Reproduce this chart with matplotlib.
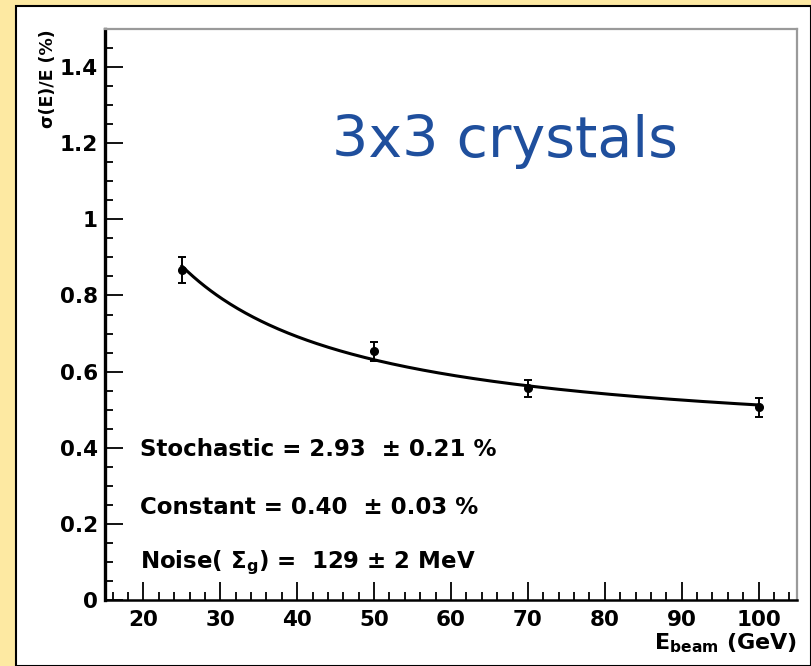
import numpy as np
import matplotlib.pyplot as plt
from matplotlib.patches import Rectangle
from matplotlib.ticker import MultipleLocator

plt.rcParams['font.family'] = ['DejaVu Sans']
plt.rcParams['mathtext.fontset'] = 'custom'
plt.rcParams['mathtext.rm'] = 'DejaVu Sans:bold'
plt.rcParams['mathtext.bf'] = 'DejaVu Sans:bold'
plt.rcParams['mathtext.it'] = 'DejaVu Sans:bold'

# Energy resolution measured with the 3x3 crystal matrix
e_beam = [25, 50, 70, 100]            # GeV
resol = [0.868, 0.653, 0.556, 0.506]  # sigma(E)/E in %
resol_err = [0.034, 0.024, 0.022, 0.024]

# Fit parameters
stoch = 2.93     # % * sqrt(GeV)
const = 0.40     # %
noise = 0.129    # GeV

fit_labels = [
    'Stochastic = 2.93  \u00b1 0.21 %',
    'Constant = 0.40  \u00b1 0.03 %',
    'Noise( $\\Sigma_{\\rm g}$) =  129 \u00b1 2 MeV',
]


def resolucion(e):
    return np.sqrt((stoch / np.sqrt(e))**2 + (100 * noise / e)**2 + const**2)


W, H = 811, 666
fig = plt.figure(figsize=(W / 100, H / 100), dpi=100)
fig.patch.set_facecolor('#fde9a2')

# white canvas with black border
fig.patches.append(Rectangle((16 / W, 0), 1 - 16 / W, 1 - 6 / H,
                             transform=fig.transFigure, facecolor='white',
                             edgecolor='black', linewidth=1.5, zorder=-10))

ax = fig.add_axes([105 / W, 66 / H, (797 - 105) / W, (600 - 29) / H])
ax.set_facecolor('white')

e = np.linspace(25, 100, 300)
ax.plot(e, resolucion(e), color='black', lw=2.2, zorder=2)
ax.errorbar(e_beam, resol, yerr=resol_err, fmt='o', color='black', ms=5.5,
            capsize=3, elinewidth=1.4, capthick=1.4, zorder=3)

ax.set_xlim(15, 105)
ax.set_ylim(0, 1.5)
ax.xaxis.set_minor_locator(MultipleLocator(2))
ax.yaxis.set_minor_locator(MultipleLocator(0.05))
ax.set_yticks([0, 0.2, 0.4, 0.6, 0.8, 1.0, 1.2, 1.4])
ax.set_yticklabels(['0', '0.2', '0.4', '0.6', '0.8', '1', '1.2', '1.4'])
ax.set_xticks([20, 30, 40, 50, 60, 70, 80, 90, 100])

ax.tick_params(which='both', direction='in', top=False, right=False,
               width=1.3, labelsize=15.5)
ax.tick_params(which='major', length=13)
ax.tick_params(which='minor', length=6)
ax.tick_params(axis='x', pad=7)
ax.tick_params(axis='y', pad=5)
for lab in ax.get_xticklabels() + ax.get_yticklabels():
    lab.set_fontweight('bold')

ax.spines['left'].set_linewidth(2.4)
ax.spines['bottom'].set_linewidth(1.8)
for s in ('top', 'right'):
    ax.spines[s].set_color('#9a9a9a')
    ax.spines[s].set_linewidth(1.6)

ax.set_ylabel('\u03c3(E)/E (%)', fontsize=12.5, fontweight='bold')
ax.yaxis.set_label_coords(-0.07, 1.0)
ax.yaxis.label.set_horizontalalignment('right')

ax.set_xlabel('E$_{\\rm beam}$ (GeV)', fontsize=16, fontweight='bold')
ax.xaxis.set_label_coords(1.0, -0.055)
ax.xaxis.label.set_horizontalalignment('right')

ax.text(67, 1.205, '3x3 crystals', fontsize=41, color='#1f4f9d',
        ha='center', va='center')

for y, txt in zip([0.396, 0.244, 0.097], fit_labels):
    ax.text(19.5, y, txt, fontsize=16.5, fontweight='bold', va='center')

fig.savefig('out.png', dpi=100, facecolor=fig.get_facecolor())
